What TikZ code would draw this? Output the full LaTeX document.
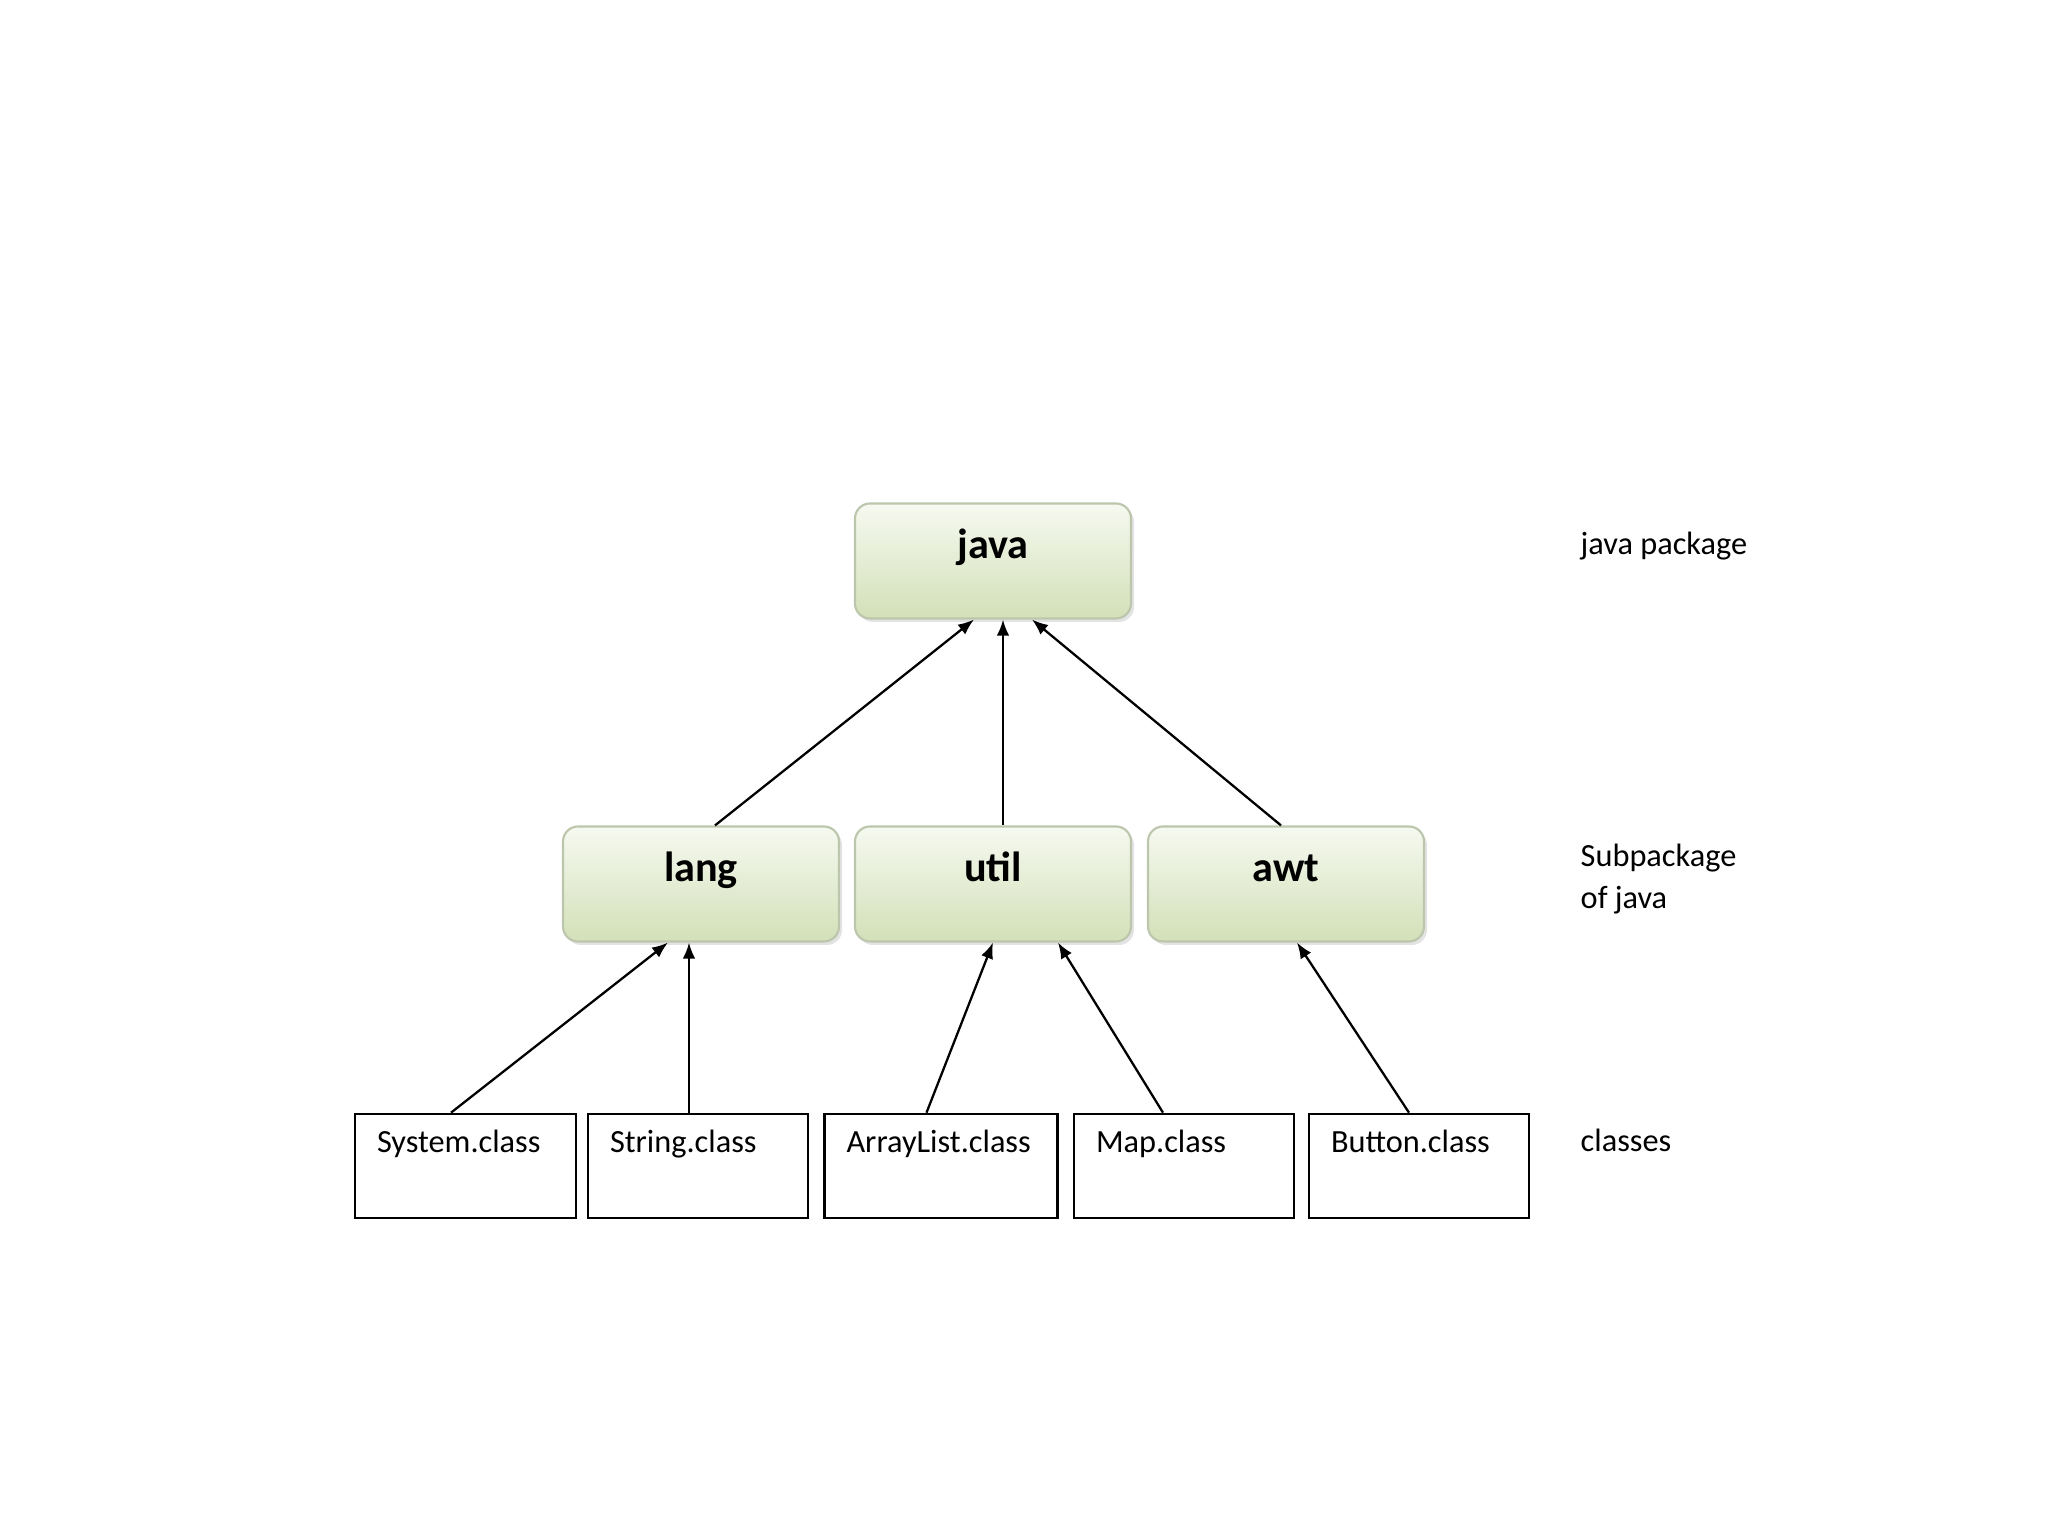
\documentclass[tikz,border=0pt]{standalone}
\usepackage{fontspec}
\setmainfont{Carlito}
\usetikzlibrary{arrows.meta,shadows}

\definecolor{pkgtop}{HTML}{F6F9F0}
\definecolor{pkgbot}{HTML}{D3E0B8}
\definecolor{pkgline}{HTML}{BCC6AC}

\begin{document}
\begin{tikzpicture}[font=\fontsize{9.2}{12}\selectfont,
  pkg/.style={draw=pkgline, line width=0.6pt, rounded corners=0.15cm,
    top color=pkgtop, bottom color=pkgbot,
    drop shadow={opacity=0.22, shadow xshift=0.03, shadow yshift=-0.035},
    minimum width=2.76cm, inner sep=0pt, text height=0.55cm, text depth=0.60cm,
    font=\fontsize{12}{14}\selectfont\bfseries},
  cls/.style={draw=black, line width=0.75pt, inner xsep=0.22cm, inner ysep=0pt,
    align=left, text height=0.39cm, text depth=0.65cm},
  up/.style={-{Latex[length=1.6mm,width=1.25mm]}, line width=0.65pt}]

\useasboundingbox (0,0) rectangle (20.48,15.36);

% packages
\node [pkg] (java) at (9.93, 9.75) {java};
\node [pkg] (lang) at (7.01, 6.52) {lang};
\node [pkg] (util) at (9.93, 6.52) {util};
\node [pkg] (awt)  at (12.86, 6.52) {awt};

% classes
\node [cls, text width=1.77cm] (system) at (4.655, 3.70) {System.class};
\node [cls, text width=1.76cm] (string) at (6.98, 3.70) {String.class};
\node [cls, text width=1.89cm] (alist)  at (9.41, 3.70) {ArrayList.class};
\node [cls, text width=1.76cm] (map)    at (11.84, 3.70) {Map.class};
\node [cls, text width=1.76cm] (button) at (14.19, 3.70) {Button.class};

% side labels
\node [anchor=base west, inner sep=0pt] (lbljava) at (15.80, 9.81) {java package};
\node [anchor=west, align=left, inner sep=0pt] (lblsub) at (15.80, 6.57) {Subpackage\\of java};
\node [anchor=base west, inner sep=0pt] (lblcls) at (15.80, 3.84) {classes};

% arrows to java
\draw [up] ([xshift=0.14cm]lang.north) -- ([xshift=-0.19cm]java.south);
\draw [up] ([xshift=0.10cm]util.north) -- ([xshift=0.10cm]java.south);
\draw [up] ([xshift=-0.05cm]awt.north) -- ([xshift=0.39cm]java.south);

% arrows to subpackages
\draw [up] ([xshift=-0.145cm]system.north) -- ([xshift=-0.33cm]lang.south);
\draw [up] ([xshift=-0.09cm]string.north) -- ([xshift=-0.12cm]lang.south);
\draw [up] ([xshift=-0.145cm]alist.north) -- ([xshift=0.0cm]util.south);
\draw [up] ([xshift=-0.21cm]map.north) -- ([xshift=0.65cm]util.south);
\draw [up] ([xshift=-0.10cm]button.north) -- ([xshift=0.11cm]awt.south);

\end{tikzpicture}
\end{document}
